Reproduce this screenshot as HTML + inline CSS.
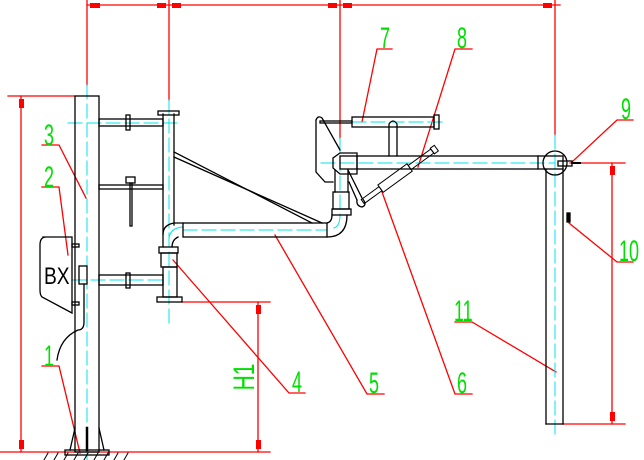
<!DOCTYPE html>
<html><head><meta charset="utf-8"><style>
html,body{margin:0;padding:0;background:#fff;width:644px;height:460px;overflow:hidden}
svg{display:block}
text{font-family:"Liberation Sans",sans-serif;fill:#00e000;font-size:30px;font-weight:normal}
</style></head><body>
<svg width="644" height="460" viewBox="0 0 644 460" xmlns="http://www.w3.org/2000/svg">
<g fill="none" stroke-linecap="square">
<g stroke="#f00" stroke-width="1.3">
<line x1="87" y1="5" x2="560" y2="5"/>
<line x1="87" y1="0" x2="87" y2="85"/>
<line x1="169" y1="0" x2="169" y2="100"/>
<line x1="340" y1="0" x2="340" y2="138"/>
<line x1="555" y1="0" x2="555" y2="135"/>
<line x1="8" y1="96" x2="75" y2="96"/>
<line x1="21" y1="96" x2="21" y2="452"/>
<line x1="0" y1="452" x2="270" y2="452"/>
<line x1="182" y1="302" x2="270" y2="302"/>
<line x1="258" y1="302" x2="258" y2="452"/>
<line x1="570" y1="163" x2="625" y2="163"/>
<line x1="563" y1="424" x2="625" y2="424"/>
<line x1="612" y1="163" x2="612" y2="424"/>
<polyline points="42,145 59,145 86,198"/>
<polyline points="42,187 59,187 68,255"/>
<polyline points="42,366 59,366 80,453"/>
<polyline points="305,393 289,393 173,260"/>
<polyline points="384,394 367,394 275,235"/>
<polyline points="472,394 455,394 382,192"/>
<polyline points="455,322 472,322 556,372"/>
<polyline points="633,262 617,262 569,223"/>
<polyline points="392,49 377,49 362,122"/>
<polyline points="472,49 455,49 418,167"/>
<polyline points="633,120 617,120 572,162"/>
</g>
<g fill="#f00">
<rect x="90" y="3" width="10" height="5"/><rect x="157" y="3" width="9" height="5"/>
<rect x="172" y="3" width="9" height="5"/><rect x="328" y="3" width="9" height="5"/>
<rect x="343" y="3" width="9" height="5"/><rect x="543" y="3" width="9" height="5"/>
<rect x="19" y="99" width="5" height="9"/><rect x="19" y="440" width="5" height="9"/>
<rect x="256" y="305" width="5" height="9"/><rect x="256" y="440" width="5" height="9"/>
<rect x="610" y="166" width="5" height="9"/><rect x="610" y="412" width="5" height="9"/>
</g>
<g stroke="#00e5ee" stroke-width="1" stroke-dasharray="14,5">
<line x1="87" y1="85" x2="87" y2="460"/>
<line x1="169" y1="100" x2="169" y2="325"/>
<line x1="68" y1="123" x2="182" y2="123"/>
<line x1="72" y1="280" x2="165" y2="280"/>
<line x1="183" y1="230" x2="327" y2="230"/>
<line x1="340" y1="138" x2="340" y2="215"/>
<line x1="321" y1="163" x2="555" y2="163"/>
<line x1="555" y1="135" x2="555" y2="437"/>
<line x1="352" y1="122" x2="443" y2="122"/>
</g>
<path d="M169 240 Q169 228 183 227 M334 228 Q340 226 340 215" stroke="#00e5ee" stroke-width="1"/>
<g stroke="#000" stroke-width="1.3">
<rect x="75" y="96" width="24" height="356"/>
<rect x="65" y="450" width="44" height="5"/>
<line x1="75" y1="428" x2="70" y2="450"/><line x1="99" y1="428" x2="104" y2="450"/>
<line x1="87" y1="428" x2="87" y2="450" stroke-width="2.5"/>
<rect x="99" y="119" width="64" height="7"/><rect x="126" y="115" width="4" height="15"/>
<rect x="99" y="185" width="64" height="4"/><rect x="126" y="177" width="9" height="6"/><rect x="130" y="183" width="2" height="43"/>
<rect x="99" y="275" width="64" height="10"/><rect x="126" y="273" width="4" height="15"/>
<line x1="163" y1="114" x2="163" y2="234"/><line x1="174" y1="114" x2="174" y2="225"/>
<rect x="158" y="111" width="21" height="4"/>
<path d="M163 234 Q163 225 174 223 L183 223 M178 237 Q172 240 172 247 M163 234 L163 247"/>
<rect x="159" y="247" width="19" height="6"/>
<rect x="161" y="253" width="16" height="14"/>
<rect x="163" y="267" width="14" height="30"/>
<rect x="157" y="297" width="25" height="5"/>
<line x1="174" y1="152" x2="312" y2="223"/><line x1="174" y1="157" x2="322" y2="223"/>
<rect x="183" y="223" width="144" height="14"/>
<path d="M327 223 Q332 222 332 215 M327 237 Q347 237 347 215"/>
<rect x="332" y="209" width="19" height="6"/>
<rect x="333" y="192" width="16" height="17"/>
<line x1="335" y1="192" x2="335" y2="170"/><line x1="348" y1="192" x2="348" y2="170"/>
<path d="M316 120 Q318 115 322 118 L340 150 M316 120 L316 172 L325 182 L333 182 M348 170 L362 198 Q368 205 362 207 Q356 206 357 200 M349 182 L357 200"/>
<path d="M340 153 L333 158 L333 168 L340 174 L357 174 L357 153 Z"/>
<rect x="340" y="156" width="223" height="13"/>
<line x1="357" y1="156" x2="357" y2="169"/><line x1="538" y1="156" x2="538" y2="169"/>
<circle cx="555" cy="163" r="12"/>
<rect x="352" y="117" width="82" height="10"/><rect x="434" y="115" width="5" height="14"/>
<rect x="320" y="121" width="32" height="2"/>
<path d="M389 156 L389 124 Q393 118 397 124 L397 156"/>
<g transform="rotate(-36 363 202)" stroke-width="1">
<rect x="363" y="199" width="22" height="5"/><rect x="385" y="197" width="36" height="9"/>
<rect x="421" y="199" width="28" height="5"/><rect x="449" y="198" width="5" height="7"/>
</g>
<line x1="546" y1="169" x2="546" y2="424"/><line x1="563" y1="169" x2="563" y2="424"/>
<line x1="546" y1="424" x2="563" y2="424"/>
<rect x="558" y="161" width="14" height="5"/>
<line x1="572" y1="163" x2="580" y2="163" stroke-width="2"/>
<rect x="567" y="213" width="3" height="9" fill="#000"/>
<path d="M43 237 L72 237 L72 313 L42 297 Q40 295 40 290 L40 245 Q40 237 46 237"/>
<rect x="72" y="244" width="7" height="3"/><rect x="72" y="302" width="7" height="3"/>
<rect x="79" y="266" width="8" height="18"/>
<path d="M84 284 L84 322 Q84 330 78 330 Q60 338 57 360"/>
</g>
<text transform="translate(44 284) scale(0.8 1)" style="fill:#000;font-size:24px">BX</text>
<g stroke="#000" stroke-width="1">
<line x1="44" y1="460" x2="48" y2="453"/><line x1="54" y1="460" x2="58" y2="453"/><line x1="64" y1="460" x2="68" y2="453"/>
<line x1="74" y1="460" x2="78" y2="453"/><line x1="84" y1="460" x2="88" y2="453"/><line x1="94" y1="460" x2="98" y2="453"/>
<line x1="104" y1="460" x2="108" y2="453"/><line x1="114" y1="460" x2="118" y2="453"/><line x1="124" y1="460" x2="128" y2="453"/>
</g>
</g>
<g>
<text transform="translate(44 145) scale(0.6 1)">3</text>
<text transform="translate(44 187) scale(0.6 1)">2</text>
<text transform="translate(44 366) scale(0.6 1)">1</text>
<text transform="translate(292 392) scale(0.6 1)">4</text>
<text transform="translate(369 393) scale(0.6 1)">5</text>
<text transform="translate(457 393) scale(0.6 1)">6</text>
<text transform="translate(380 48) scale(0.6 1)">7</text>
<text transform="translate(457 48) scale(0.6 1)">8</text>
<text transform="translate(621 119) scale(0.6 1)">9</text>
<text transform="translate(619 261) scale(0.6 1)">10</text>
<text transform="translate(454 321) scale(0.6 1)">11</text>
<text transform="translate(254 377) rotate(-90) scale(0.7 1)" text-anchor="middle">H1</text>
</g>
</svg>
</body></html>
